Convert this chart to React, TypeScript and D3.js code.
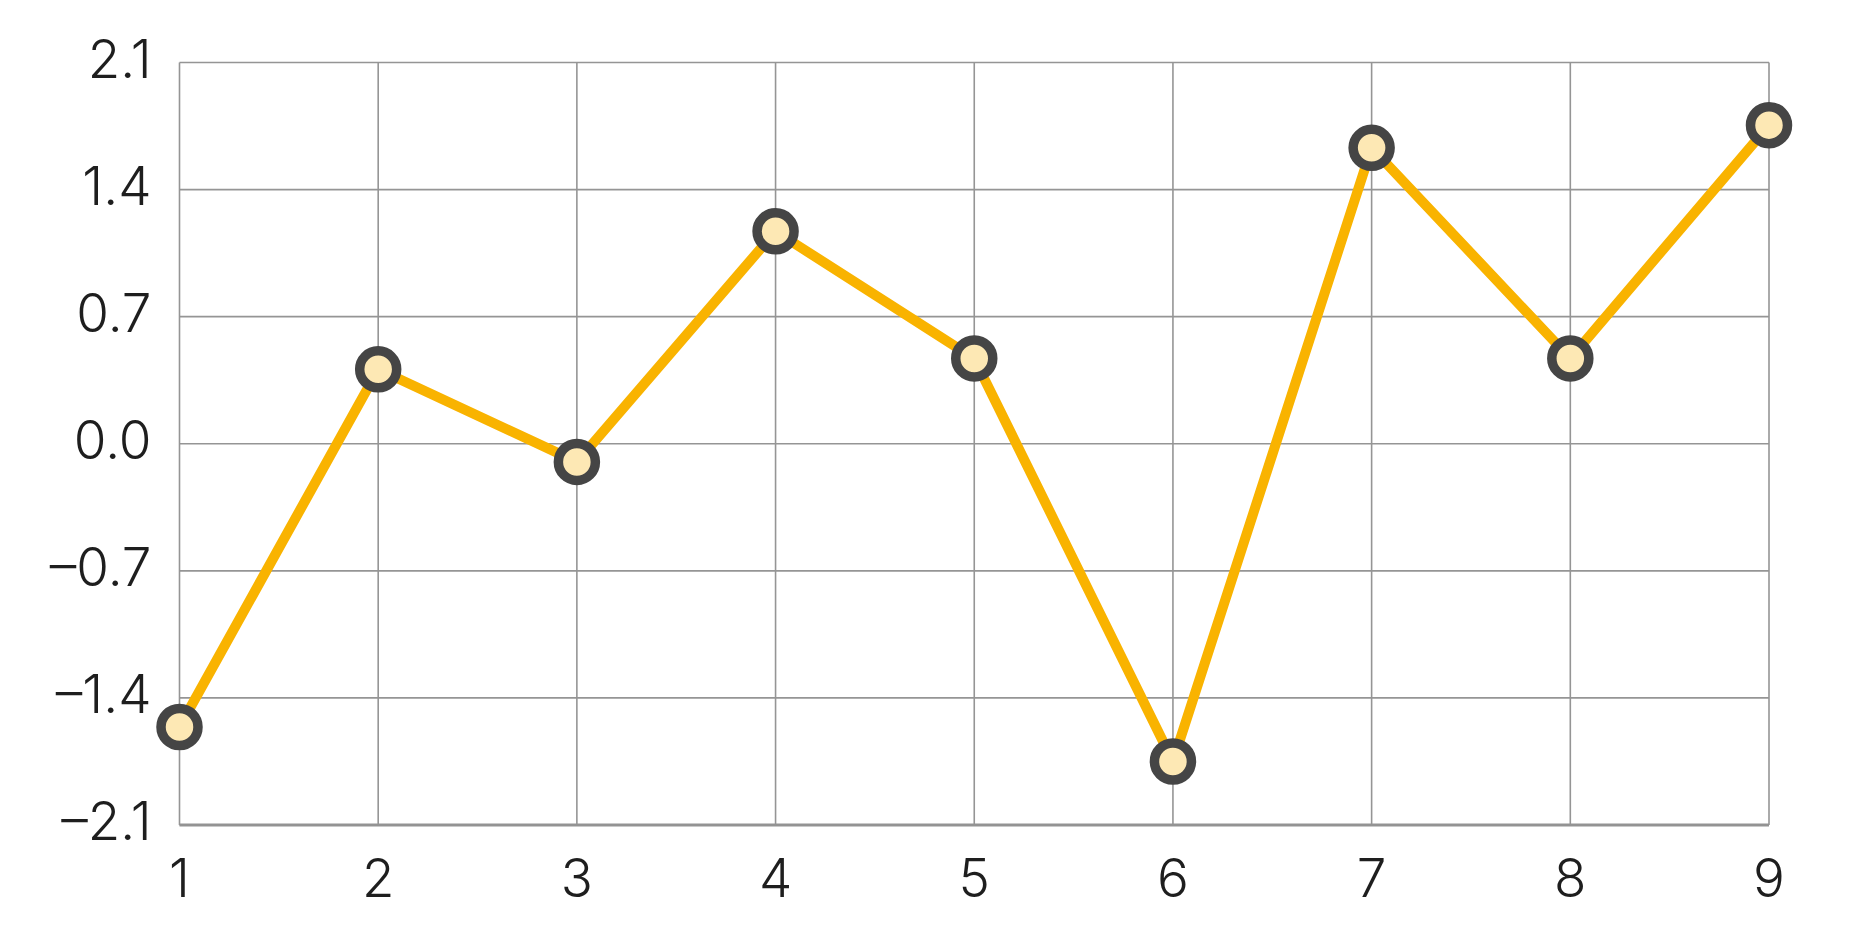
import React, { useEffect, useRef } from "react";
import * as d3 from "d3";

const xCategories = [1, 2, 3, 4, 5, 6, 7, 8, 9];
const seriesValues = [-1.56, 0.41, -0.1, 1.17, 0.47, -1.75, 1.63, 0.47, 1.755];
const yTicks = [-2.1, -1.4, -0.7, 0.0, 0.7, 1.4, 2.1];

const W = 1850;
const H = 925;
const margin = { left: 179.5, right: 81, top: 62.5, bottom: 100 };

export default function App() {
  const ref = useRef<SVGSVGElement>(null);

  useEffect(() => {
    document.body.style.margin = "0";
    const svg = d3.select(ref.current);
    svg.selectAll("*").remove();

    const x = d3
      .scaleLinear()
      .domain([1, 9])
      .range([margin.left, W - margin.right]);
    const y = d3
      .scaleLinear()
      .domain([-2.1, 2.1])
      .range([H - margin.bottom, margin.top]);

    const font = "Inter, 'Open Sans', sans-serif";
    const grid = svg.append("g");

    grid
      .selectAll("line.h")
      .data(yTicks)
      .join("line")
      .attr("x1", x(1))
      .attr("x2", x(9))
      .attr("y1", (d) => y(d))
      .attr("y2", (d) => y(d))
      .attr("stroke", "#959595")
      .attr("stroke-width", 1.6);

    grid
      .selectAll("line.v")
      .data(xCategories)
      .join("line")
      .attr("x1", (d) => x(d))
      .attr("x2", (d) => x(d))
      .attr("y1", y(2.1))
      .attr("y2", y(-2.1))
      .attr("stroke", "#959595")
      .attr("stroke-width", 1.6);

    svg
      .append("line")
      .attr("x1", x(1))
      .attr("x2", x(9))
      .attr("y1", y(-2.1))
      .attr("y2", y(-2.1))
      .attr("stroke", "#939393")
      .attr("stroke-width", 3.2);

    const fmt = (d: number) => d3.format(".1f")(d).replace("\u2212", "\u2013");

    svg
      .append("g")
      .selectAll("text")
      .data(yTicks)
      .join("text")
      .attr("x", x(1) - 28)
      .attr("y", (d) => y(d) + 15)
      .attr("text-anchor", "end")
      .attr("font-family", font)
      .attr("font-weight", 300)
      .attr("font-size", 53)
      .attr("fill", "#1e1e1e")
      .text((d) => fmt(d));

    svg
      .append("g")
      .selectAll("text")
      .data(xCategories)
      .join("text")
      .attr("x", (d) => x(d))
      .attr("y", y(-2.1) + 72)
      .attr("text-anchor", "middle")
      .attr("font-family", font)
      .attr("font-weight", 300)
      .attr("font-size", 53)
      .attr("fill", "#1e1e1e")
      .text((d) => String(d));

    const data = xCategories.map((c, i) => ({ c, v: seriesValues[i] }));

    const line = d3
      .line<{ c: number; v: number }>()
      .x((d) => x(d.c))
      .y((d) => y(d.v));

    svg
      .append("path")
      .datum(data)
      .attr("d", line)
      .attr("fill", "none")
      .attr("stroke", "#f9b300")
      .attr("stroke-width", 10)
      .attr("stroke-linejoin", "round");

    svg
      .append("g")
      .selectAll("circle")
      .data(data)
      .join("circle")
      .attr("cx", (d) => x(d.c))
      .attr("cy", (d) => y(d.v))
      .attr("r", 18.5)
      .attr("fill", "#fde8b4")
      .attr("stroke", "#454545")
      .attr("stroke-width", 9.5);
  }, []);

  return (
    <svg
      ref={ref}
      width={W}
      height={H}
      style={{ position: "absolute", left: 0, top: 0, background: "#fff" }}
    />
  );
}
